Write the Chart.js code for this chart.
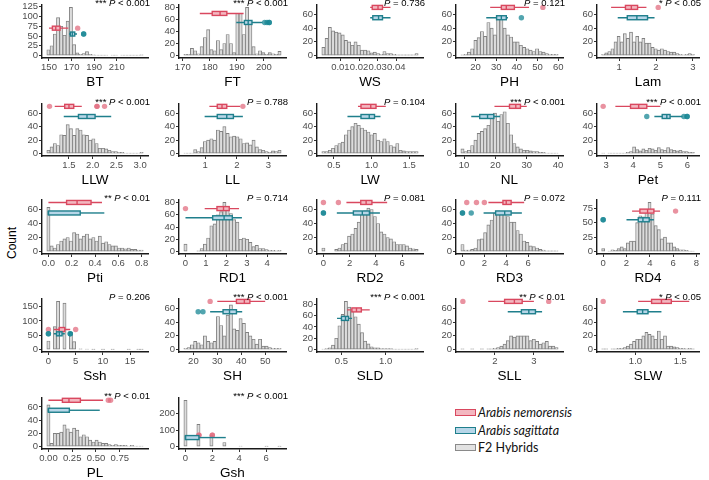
<!DOCTYPE html>
<html>
<head>
<meta charset="utf-8">
<script src="https://cdn.jsdelivr.net/npm/chart.js@4.4.1/dist/chart.umd.min.js"></script>
<style>
  body { margin: 0; width: 709px; height: 480px; position: relative; background: #fff; overflow: hidden;
         font-family: "Liberation Sans", Arial, sans-serif; }
  canvas { position: absolute; }
  #ylab { position: absolute; left: 12px; top: 243px; transform: translate(-50%, -50%) rotate(-90deg);
          font-size: 12px; color: #000; white-space: nowrap; }
  .leg { position: absolute; left: 455px; height: 14px; font-family: Lato, "Open Sans", sans-serif;
         font-size: 12.5px; line-height: 14px; color: #111; white-space: nowrap; }
  .leg span { display: inline-block; width: 19px; height: 5px; border: 1px solid; vertical-align: middle;
              margin-right: 2px; position: relative; top: -1px; }
</style>
</head>
<body>
<div id="ylab">Count</div>
<div class="leg" style="top:406px"><span style="background:#F3B7C0;border-color:#D9485F"></span><i>Arabis nemorensis</i></div>
<div class="leg" style="top:424px"><span style="background:#B7D6E8;border-color:#1F7F8C"></span><i>Arabis sagittata</i></div>
<div class="leg" style="top:441px"><span style="background:#E2E2E2;border-color:#8A8A8A"></span>F2 Hybrids</div>
<script>
// ===== data =====
const traits = ['BT', 'FT', 'WS', 'PH', 'Lam',
                'LLW', 'LL', 'LW', 'NL', 'Pet',
                'Pti', 'RD1', 'RD2', 'RD3', 'RD4',
                'Ssh', 'SH', 'SLD', 'SLL', 'SLW',
                'PL', 'Gsh'];

const pText = ['*** P < 0.001', '*** P < 0.001', 'P = 0.736', 'P = 0.121', '* P < 0.05',
               '*** P < 0.001', 'P = 0.788', 'P = 0.104', '*** P < 0.001', '*** P < 0.001',
               '** P < 0.01', 'P = 0.714', 'P = 0.081', 'P = 0.072', 'P = 0.111',
               'P = 0.206', '*** P < 0.001', '*** P < 0.001', '** P < 0.01', '* P < 0.05',
               '** P < 0.01', '*** P < 0.001'];

// centre of first and last histogram bin (30 bins each)
const binLo = [149.5, 171, 0.0009, 13.7, 0.565,
               1.067, 0.374, 0.36, 9.5, 2.89,
               0, 0, 0, 0, 0,
               0, 16.7, 0.296, 1.17, 0.64,
               0, 0];
const binHi = [232, 205.8, 0.0509, 59.2, 3.0,
               3.03, 3.35, 1.6, 39.5, 6.2,
               0.8, 4.6, 7.09, 8.6, 7.69,
               17.1, 56, 1.35, 3.58, 1.64,
               0.98, 7.0];

// F2 hybrid counts per bin
const counts = [
  [15, 25, 55, 97, 75, 52, 88, 123, 28, 7, 3, 5, 10, 3, 2, 1, 1, 1, 1, 0, 1, 1, 0, 1, 1, 1, 1, 1, 1, 2],
  [2, 2, 12, 8, 3, 15, 30, 43, 10, 8, 25, 10, 20, 35, 20, 5, 70, 70, 35, 80, 55, 15, 3, 8, 5, 2, 5, 3, 2, 7],
  [12, 25, 41, 36, 34, 33, 30, 22, 20, 15, 20, 15, 8, 8, 7, 4, 5, 3, 2, 6, 3, 3, 2, 1, 1, 1, 1, 1, 1, 3],
  [1, 2, 5, 10, 22, 26, 35, 28, 48, 40, 30, 55, 58, 40, 30, 27, 20, 20, 15, 12, 10, 8, 6, 10, 6, 5, 3, 2, 2, 2],
  [2, 4, 6, 10, 20, 28, 20, 32, 25, 34, 20, 28, 20, 25, 18, 18, 12, 10, 8, 10, 8, 6, 5, 5, 3, 2, 1, 2, 3, 2],
  [5, 10, 15, 12, 28, 27, 43, 37, 27, 37, 35, 28, 27, 20, 22, 15, 8, 8, 7, 5, 3, 3, 2, 2, 1, 1, 1, 1, 1, 2],
  [1, 1, 1, 6, 3, 9, 18, 20, 22, 20, 35, 33, 40, 30, 25, 26, 25, 22, 15, 16, 13, 20, 10, 6, 5, 3, 2, 4, 3, 5],
  [3, 3, 5, 8, 12, 15, 17, 28, 35, 40, 45, 42, 38, 35, 32, 28, 30, 20, 18, 22, 18, 12, 10, 15, 5, 4, 3, 3, 3, 3],
  [7, 3, 5, 12, 20, 30, 33, 37, 42, 55, 60, 48, 58, 62, 45, 28, 15, 10, 7, 5, 5, 4, 3, 3, 2, 2, 1, 1, 1, 1],
  [1, 0, 1, 1, 1, 1, 1, 1, 2, 3, 10, 6, 4, 7, 5, 8, 7, 5, 9, 6, 5, 9, 6, 5, 4, 5, 3, 3, 2, 2],
  [63, 8, 5, 10, 15, 18, 20, 15, 27, 25, 18, 22, 25, 18, 20, 15, 22, 12, 14, 10, 8, 8, 5, 5, 4, 5, 3, 3, 2, 2],
  [12, 0, 0, 0, 1, 5, 12, 22, 42, 45, 60, 65, 80, 70, 62, 52, 48, 20, 22, 20, 15, 8, 10, 5, 5, 3, 2, 2, 1, 2],
  [5, 0, 0, 0, 3, 5, 10, 12, 22, 25, 33, 42, 53, 58, 62, 60, 50, 40, 28, 25, 20, 18, 14, 10, 10, 10, 8, 5, 4, 3],
  [10, 2, 2, 3, 5, 17, 18, 27, 38, 45, 55, 58, 55, 53, 50, 42, 42, 30, 25, 15, 13, 8, 7, 5, 3, 2, 1, 1, 1, 1],
  [5, 0, 1, 3, 2, 5, 8, 5, 15, 18, 18, 50, 62, 60, 70, 85, 65, 45, 38, 22, 25, 15, 15, 8, 5, 3, 3, 2, 1, 1],
  [30, 0, 80, 168, 0, 162, 0, 60, 28, 0, 3, 0, 2, 0, 1, 0, 0, 1, 0, 0, 1, 0, 0, 0, 0, 1, 0, 0, 1, 1],
  [2, 3, 7, 12, 10, 7, 20, 12, 10, 12, 48, 35, 20, 50, 65, 30, 28, 45, 38, 25, 20, 15, 8, 15, 5, 5, 3, 2, 2, 2],
  [1, 2, 3, 8, 20, 42, 62, 85, 75, 68, 58, 45, 30, 15, 10, 5, 3, 3, 2, 2, 2, 2, 1, 1, 1, 1, 1, 1, 1, 2],
  [1, 0, 0, 1, 0, 0, 1, 0, 1, 1, 2, 3, 5, 8, 13, 20, 18, 20, 20, 20, 20, 13, 15, 12, 8, 10, 12, 5, 5, 3],
  [1, 1, 0, 1, 1, 2, 2, 3, 5, 8, 12, 15, 15, 20, 25, 22, 20, 15, 27, 15, 20, 5, 5, 4, 3, 2, 2, 1, 2, 1],
  [63, 5, 20, 20, 22, 33, 27, 22, 28, 25, 15, 18, 15, 10, 7, 10, 7, 5, 5, 3, 2, 3, 2, 2, 2, 1, 2, 1, 1, 1],
  [280, 0, 0, 0, 135, 0, 0, 0, 70, 0, 0, 0, 25, 0, 0, 0, 0, 3, 0, 0, 0, 0, 0, 0, 0, 1, 0, 0, 0, 1]
];

// boxplots: [whisker low, q1, median, q3, whisker high]
const nemBox = [
  [150.0, 153.0, 156.0, 159.8, 167.1], [176.3, 180.9, 183.8, 186.3, 192.5], [0.026, 0.0271, 0.0302, 0.0326, 0.0369],
  [27.1, 32.5, 34.9, 38.8, 45.9], [0.78, 1.17, 1.33, 1.50, 1.74],
  [1.2, 1.41, 1.5, 1.6, 1.77], [1.13, 1.38, 1.53, 1.68, 2.1], [0.82, 0.86, 0.99, 1.06, 1.19],
  [19.7, 24.5, 26.5, 28, 30], [3.34, 3.9, 4.2, 4.5, 5.0],
  [0, 0.156, 0.246, 0.366, 0.46], [0.94, 1.54, 1.86, 2.14, 2.62], [1.75, 2.84, 3.25, 3.69, 4.85],
  [2.37, 3.7, 4.0, 4.45, 5.64], [2.48, 3.15, 3.81, 4.35, 4.88],
  [1, 2, 2, 3, 4], [30, 38, 41.3, 43.6, 50], [0.564, 0.618, 0.67, 0.725, 0.82],
  [1.83, 2.25, 2.5, 2.7, 3.0], [1.03, 1.18, 1.29, 1.4, 1.6],
  [0, 0.147, 0.216, 0.336, 0.575], [0, 0, 0, 0, 0]
];
const nemOut = [
  [175.4], [], [], [52.6], [2.06],
  [1.09, 2.09, 2.09, 2.25], [2.19], [], [], [2.89],
  [], [0], [0, 1.14], [0.39, 1.28, 2.0], [6.21],
  [0, 5], [27], [], [1.18, 3.38], [0.64],
  [0.63, 0.654], [1, 1, 2, 2]
];
const sagBox = [
  [167.7, 168.9, 170.7, 172.8, 174.8], [189.8, 192.8, 194.2, 195.6, 199.5], [0.026, 0.0274, 0.0305, 0.0326, 0.0369],
  [25.2, 30.2, 32.5, 34.9, 35.7], [0.96, 1.22, 1.48, 1.77, 1.96],
  [1.39, 1.70, 1.88, 2.05, 2.39], [0.98, 1.38, 1.68, 1.89, 2.19], [0.68, 0.86, 0.97, 1.04, 1.12],
  [12.3, 15, 17.5, 19.5, 21.5], [4.78, 5.07, 5.24, 5.36, 5.82],
  [0, 0, 0, 0.273, 0.48], [0, 1.33, 1.89, 2.29, 2.76], [1.02, 2.28, 2.96, 3.5, 4.3],
  [1.93, 3.03, 3.86, 4.45, 5.43], [2.0, 3.01, 3.41, 3.95, 4.35],
  [1, 1.5, 2, 2.5, 3], [27, 32.4, 35.1, 38, 40.4], [0.45, 0.5, 0.546, 0.58, 0.62],
  [2.33, 2.68, 2.87, 3.04, 3.21], [0.86, 1.02, 1.08, 1.14, 1.29],
  [0, 0, 0, 0.22, 0.54], [0, 0, 0, 1, 3]
];
const sagOut = [
  [180.7, 180.7], [200.3, 201.2, 202, 202], [], [42.2], [],
  [], [], [], [], [4.5, 5.87, 5.99, 5.99],
  [], [], [0, 0], [0, 0, 0.8], [0, 0],
  [0, 0, 4, 4], [22, 24], [], [], [],
  [], []
];

const xTickLabels = [
  ['150', '170', '190', '210'], ['170', '180', '190', '200'], ['0.01', '0.02', '0.03', '0.04'],
  ['20', '30', '40', '50', '60'], ['1', '2', '3'],
  ['1.5', '2.0', '2.5', '3.0'], ['1', '2', '3'], ['0.5', '1.0', '1.5'], ['10', '20', '30', '40'], ['3', '4', '5', '6'],
  ['0.0', '0.2', '0.4', '0.6', '0.8'], ['0', '1', '2', '3', '4'], ['0', '2', '4', '6'], ['0', '2', '4', '6'], ['0', '2', '4', '6', '8'],
  ['0', '5', '10', '15'], ['20', '30', '40', '50'], ['0.5', '1.0'], ['2', '3'], ['1.0', '1.5'],
  ['0.00', '0.25', '0.50', '0.75'], ['0', '2', '4', '6']
];
const yTicks = [
  [0, 25, 50, 75, 100, 125], [0, 20, 40, 60, 80], [0, 20, 40, 60], [0, 20, 40, 60], [0, 20, 40, 60],
  [0, 20, 40, 60], [0, 20, 40, 60], [0, 20, 40, 60], [0, 20, 40, 60], [0, 20, 40, 60],
  [0, 20, 40, 60], [0, 20, 40, 60, 80], [0, 20, 40, 60], [0, 20, 40, 60], [0, 25, 50, 75],
  [0, 50, 100, 150], [0, 20, 40, 60], [0, 20, 40, 60, 80], [0, 20, 40, 60], [0, 20, 40, 60],
  [0, 20, 40, 60], [0, 100, 200]
];

// y level (in count units) where the parent boxplots sit
const nemLevel = 70;
const sagLevel = 55;

// ===== layout =====
const FONT = '"Liberation Sans", Arial, sans-serif';
const plotLeft = [42, 179, 317, 456, 597];
const plotRight = [148, 286, 423, 563, 699];
const plotTop = [5, 104, 200, 299, 398];
const plotBottom = [58, 156, 254, 352, 449];
const AXW = 40, AXH = 32, PADT = 10, PADR = 6;

function drawBox(ctx, xs, ys, box, outs, level, stroke, fill, dot) {
  const y = ys.getPixelForValue(level);
  const p = box.map(v => xs.getPixelForValue(v));
  ctx.save();
  ctx.strokeStyle = stroke;
  ctx.lineWidth = 1.4;
  ctx.beginPath();
  ctx.moveTo(p[0], y); ctx.lineTo(p[1], y);
  ctx.moveTo(p[3], y); ctx.lineTo(p[4], y);
  ctx.stroke();
  if (p[3] - p[1] > 0.5) {
    ctx.fillStyle = fill;
    ctx.fillRect(p[1], y - 2, p[3] - p[1], 4);
    ctx.strokeRect(p[1], y - 2, p[3] - p[1], 4);
    ctx.beginPath();
    ctx.moveTo(p[2], y - 2); ctx.lineTo(p[2], y + 2);
    ctx.stroke();
  }
  ctx.fillStyle = dot;
  outs.forEach(v => {
    ctx.beginPath();
    ctx.arc(xs.getPixelForValue(v), y, 2.7, 0, Math.PI * 2);
    ctx.fill();
  });
  ctx.restore();
}

function drawP(ctx, area, s) {
  const k = s.indexOf('P');
  const pre = s.slice(0, k), post = s.slice(k + 1);
  const norm = '9.5px ' + FONT, ital = 'italic 9.5px ' + FONT;
  ctx.save();
  ctx.fillStyle = '#000';
  ctx.textBaseline = 'middle';
  ctx.textAlign = 'left';
  ctx.font = norm;
  const w1 = ctx.measureText(pre).width, w3 = ctx.measureText(post).width;
  ctx.font = ital;
  const w2 = ctx.measureText('P').width;
  let x = area.right + 2 - (w1 + w2 + w3);
  const y = area.top - 1.5;
  ctx.font = norm; ctx.fillText(pre, x, y); x += w1;
  ctx.font = ital; ctx.fillText('P', x, y); x += w2;
  ctx.font = norm; ctx.fillText(post, x, y);
  ctx.restore();
}

traits.forEach((name, i) => {
  const col = i % 5, row = Math.floor(i / 5);
  const L = plotLeft[col], R = plotRight[col], T = plotTop[row], B = plotBottom[row];
  const cv = document.createElement('canvas');
  cv.width = (R - L) + AXW + PADR;
  cv.height = (B - T) + AXH + PADT;
  cv.style.left = (L - AXW) + 'px';
  cv.style.top = (T - PADT) + 'px';
  document.body.appendChild(cv);

  const n = counts[i].length;
  const w = (binHi[i] - binLo[i]) / (n - 1);
  const centers = counts[i].map((c, j) => binLo[i] + j * w);
  const all = [binLo[i] - w / 2, binHi[i] + w / 2].concat(nemBox[i], sagBox[i], nemOut[i], sagOut[i]);
  const dMin = Math.min(...all), dMax = Math.max(...all);
  const pad = 0.05 * (dMax - dMin);
  const M = Math.max(Math.max(...counts[i]), nemLevel);
  const xVals = xTickLabels[i].map(Number);

  new Chart(cv, {
    type: 'bar',
    data: {
      datasets: [{
        data: centers.map((c, j) => ({ x: c, y: counts[i][j] })),
        backgroundColor: '#DCDCDC',
        borderColor: '#808080',
        borderWidth: 0.9,
        borderSkipped: false,
        barPercentage: 1,
        categoryPercentage: 1
      }]
    },
    options: {
      responsive: false,
      animation: false,
      devicePixelRatio: 1,
      layout: { padding: { top: PADT, right: PADR, left: 0, bottom: 0 } },
      plugins: { legend: { display: false }, tooltip: { enabled: false } },
      scales: {
        x: {
          type: 'linear', min: dMin - pad, max: dMax + pad, offset: false,
          grid: { display: true, drawOnChartArea: false, drawTicks: true, tickLength: 3, color: '#333', offset: false },
          border: { display: true, color: '#1a1a1a', width: 1.4 },
          ticks: { autoSkip: false, maxRotation: 0, padding: 1, color: '#4D4D4D',
                   font: { family: FONT, size: 9.5 }, callback: (v, k) => xTickLabels[i][k] },
          afterBuildTicks: s => { s.ticks = xVals.map(v => ({ value: v })); },
          afterFit: s => { s.height = AXH; s.paddingLeft = 0; s.paddingRight = 0; },
          title: { display: true, text: name, color: '#000', font: { family: FONT, size: 13.5 }, padding: 0 }
        },
        y: {
          min: -0.05 * M, max: 1.05 * M,
          grid: { display: true, drawOnChartArea: false, drawTicks: true, tickLength: 3, color: '#333' },
          border: { display: true, color: '#1a1a1a', width: 1.4 },
          ticks: { autoSkip: false, padding: 1, color: '#4D4D4D', font: { family: FONT, size: 9.5 } },
          afterBuildTicks: s => { s.ticks = yTicks[i].map(v => ({ value: v })); },
          afterFit: s => { s.width = AXW; s.paddingTop = 0; s.paddingBottom = 0; }
        }
      }
    },
    plugins: [{
      id: 'parents' + i,
      afterDatasetsDraw(chart) {
        const { ctx, chartArea } = chart;
        const xs = chart.scales.x, ys = chart.scales.y;
        drawBox(ctx, xs, ys, nemBox[i], nemOut[i], nemLevel, '#D9485F', '#F3B7C0', 'rgba(226,110,128,0.75)');
        drawBox(ctx, xs, ys, sagBox[i], sagOut[i], sagLevel, '#1F7F8C', '#B7D6E8', 'rgba(24,135,148,0.75)');
        drawP(ctx, chartArea, pText[i]);
      }
    }]
  });
});
</script>
</body>
</html>
